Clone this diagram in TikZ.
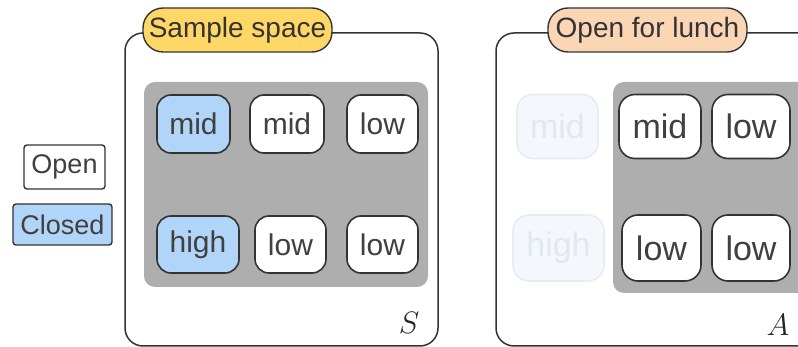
\documentclass[tikz,border=0pt]{standalone}
\usepackage{fix-cm}
\usepackage{fontspec}
\setmainfont{Liberation Sans}
\begin{document}
\begin{tikzpicture}[x=1pt,y=-1pt,
  txt/.style={text=black!75},
  cell/.style={draw=black!80, line width=1.6pt, rounded corners=14pt, fill=white,
    inner sep=0pt, txt, font=\fontsize{30}{36}\selectfont},
  bigcell/.style={cell, rounded corners=16pt, font=\fontsize{34}{40}\selectfont},
  closedcell/.style={fill=closedblue},
  faded/.style={draw=fadeline, fill=fadefill, text=fadetext},
  legend/.style={draw=black!80, line width=1.4pt, rounded corners=3pt, inner sep=0pt,
    txt, font=\fontsize{27}{32}\selectfont},
  tag/.style={draw=black!80, line width=1.4pt, rounded corners=20pt, inner sep=0pt,
    minimum height=44pt, text=black!80, font=\fontsize{28}{34}\selectfont},
  frame/.style={draw=black!80, line width=1.5pt, rounded corners=18pt},
  pool/.style={fill=poolgrey, rounded corners=11pt},
  setname/.style={font=\fontsize{31}{36}\selectfont, text=black!85}
]
\definecolor{closedblue}{HTML}{B0D5F8}
\definecolor{fadefill}{HTML}{F4F8FD}
\definecolor{fadeline}{HTML}{E6ECF3}
\definecolor{fadetext}{HTML}{E2E8EF}
\definecolor{poolgrey}{HTML}{AEAEAE}
\definecolor{tagyellow}{HTML}{FFD766}
\definecolor{tagpeach}{HTML}{FBD6B4}

\useasboundingbox (0,0) rectangle (798,347);
\begin{scope}
\clip (0,0) rectangle (798,347);

% legend
\node[legend, minimum width=81pt, minimum height=44pt] (open) at (64.5,167) {Open};
\node[legend, closedcell, minimum width=99pt, minimum height=41pt] (closed) at (62.5,224.5) {Closed};

% sample space S
\draw[frame] (125,33) rectangle (438,346);
\fill[pool] (144,82) rectangle (428,287);
\node[tag, fill=tagyellow, minimum width=189pt] (sample) at (237.5,30) {Sample space};
\node[cell, closedcell, minimum width=73pt, minimum height=58pt] (s11) at (193.5,124) {mid};
\node[cell, minimum width=74pt, minimum height=58pt] (s12) at (287,124) {mid};
\node[cell, minimum width=71pt, minimum height=58pt] (s13) at (382.5,124) {low};
\node[cell, closedcell, minimum width=82pt, minimum height=57pt] (s21) at (198,244.5) {high};
\node[cell, minimum width=71pt, minimum height=57pt] (s22) at (290.5,244.5) {low};
\node[cell, minimum width=71pt, minimum height=57pt] (s23) at (382.5,244.5) {low};
\node[setname] (S) at (409,323) {$S$};

% event A: open for lunch
\draw[frame] (496,33) rectangle (860,346);
\fill[pool] (613,82) rectangle (850,293);
\node[tag, fill=tagpeach, minimum width=199pt] (lunch) at (647.5,30) {Open for lunch};
\node[bigcell, faded, minimum width=81pt, minimum height=64pt] (a11) at (557.5,126.5) {mid};
\node[bigcell, minimum width=82pt, minimum height=64pt] (a12) at (660,126.5) {mid};
\node[bigcell, minimum width=78pt, minimum height=64pt] (a13) at (751,126.5) {low};
\node[bigcell, faded, minimum width=91pt, minimum height=66pt] (a21) at (558.5,248) {high};
\node[bigcell, minimum width=79pt, minimum height=66pt] (a22) at (661.5,248) {low};
\node[bigcell, minimum width=78pt, minimum height=66pt] (a23) at (751,248) {low};
\node[setname] (A) at (778,325) {$A$};
\end{scope}
\end{tikzpicture}
\end{document}
